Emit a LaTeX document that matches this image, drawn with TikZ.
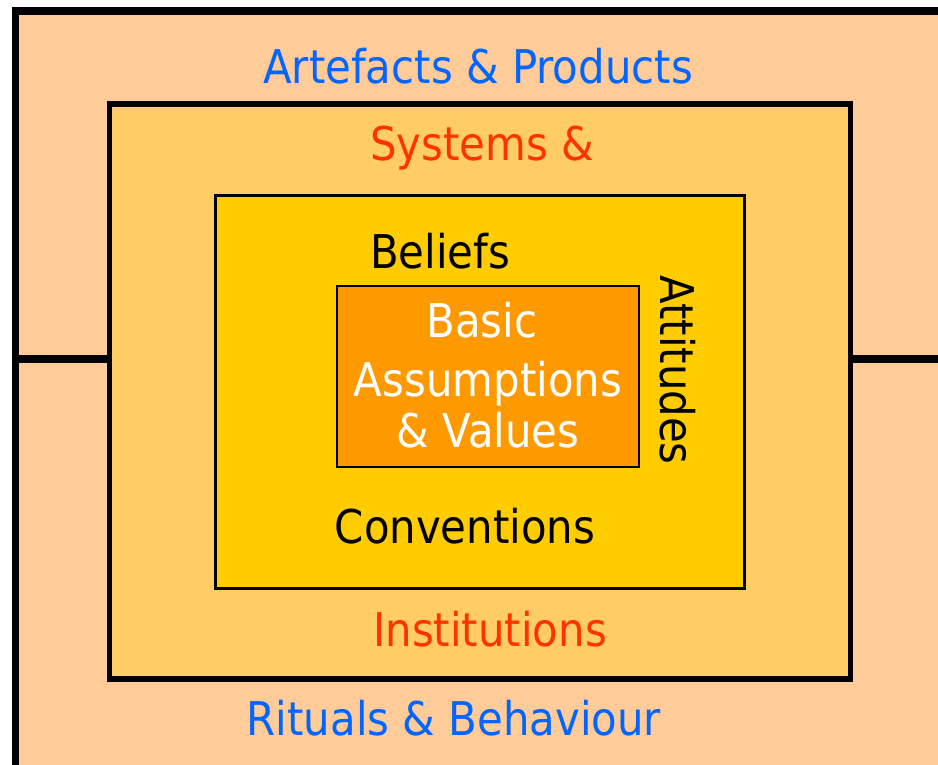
\documentclass[tikz,border=0pt]{standalone}
\usepackage{fontspec}
\setmainfont{DejaVu Sans}[FakeStretch=0.9]
\definecolor{peach}{HTML}{FFCC99}
\definecolor{sand}{HTML}{FFCC66}
\definecolor{gold}{HTML}{FFCC00}
\definecolor{amber}{HTML}{FF9900}
\definecolor{lblue}{HTML}{0066FF}
\definecolor{lred}{HTML}{FF3300}
\tikzset{
  lbl/.style={inner sep=0pt, anchor=base, font=\fontsize{46.5}{55}\selectfont},
  box/.style={draw=black, inner sep=0pt, outer sep=0pt, anchor=north west},
}
\begin{document}
\begin{tikzpicture}[x=1pt,y=-1pt]
\useasboundingbox (0,0) rectangle (938,764);
\fill[white] (0,0) rectangle (938,764);
\begin{scope}
\clip (0,0) rectangle (938,764);
\node[box, line width=7.5pt, fill=peach, minimum width=940pt, minimum height=770pt] (outer) at (15.5,11) {};
\node[box, line width=5.5pt, fill=sand, minimum width=741pt, minimum height=575pt] (sys) at (109.5,104) {};
\coordinate (ll) at (15.5,358.5);
\coordinate (lr) at (109.5,358.5);
\coordinate (rl) at (850.5,358.5);
\coordinate (rr) at (950,358.5);
\draw[line width=8pt] (ll) -- (lr);
\draw[line width=8pt] (rl) -- (rr);
\end{scope}
\node[box, line width=3pt, fill=gold, minimum width=529.5pt, minimum height=393.5pt] (bel) at (215,195) {};
\node[box, line width=1.5pt, fill=amber, minimum width=302pt, minimum height=181pt] (core) at (337,286) {};
\node[lbl, text=lblue] (art) at (478,83) {Artefacts \& Products};
\node[lbl, text=lred] (syst) at (482,160) {Systems \&};
\node[lbl] (beliefs) at (440,268) {Beliefs};
\node[lbl, text=white] (b1) at (482,337) {Basic};
\node[lbl, text=white] (b2) at (488,396) {Assumptions};
\node[lbl, text=white] (b3) at (488,447) {\& Values};
\node[lbl, rotate=-90] (att) at (660,370) {Attitudes};
\node[lbl] (conv) at (465,543) {Conventions};
\node[lbl, text=lred] (inst) at (490,646) {Institutions};
\node[lbl, text=lblue] (rit) at (454,735) {Rituals \& Behaviour};
\end{tikzpicture}
\end{document}
